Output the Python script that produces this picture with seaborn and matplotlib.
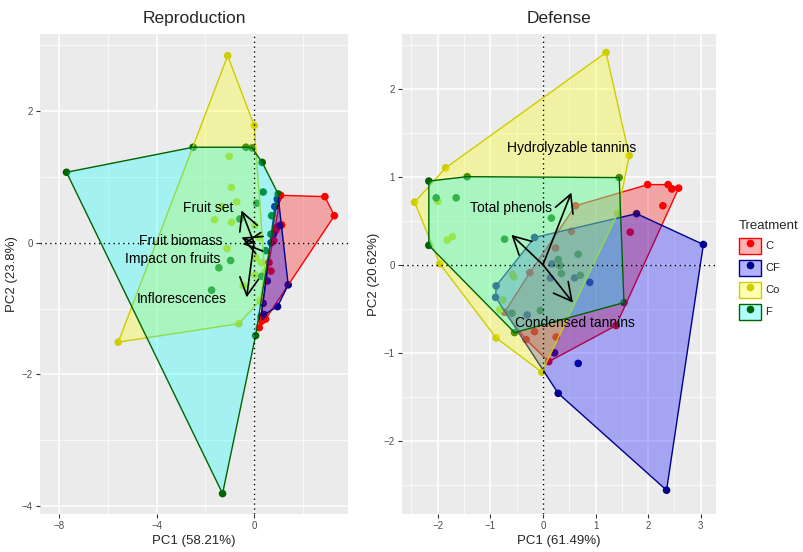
import numpy as np
import pandas as pd
import matplotlib
matplotlib.use('Agg')
import matplotlib.pyplot as plt
from matplotlib.patches import Polygon, Patch
from matplotlib.lines import Line2D
import seaborn as sns

# PCA scores (PC1, PC2) per treatment
groups = ['C', 'CF', 'Co', 'F']

rep_C = [(1.10, 0.72), (2.92, 0.70), (3.31, 0.41), (0.22, -1.29), (0.90, 0.19), (0.82, 0.03),
         (0.70, -0.43), (1.14, 0.27), (0.92, 0.23), (0.48, -1.16), (0.32, -1.19), (0.62, -0.30)]
rep_CF = [(1.00, 0.69), (1.41, -0.64), (0.97, -0.97), (0.41, -1.09), (0.30, -1.12), (0.96, 0.66),
          (0.86, 0.55), (0.80, 0.13), (1.07, 0.26), (0.55, -0.58), (0.38, -0.92), (0.70, 0.00)]
rep_Co = [(-1.08, 2.84), (0.01, 1.78), (0.45, -0.45), (0.25, -0.88), (-0.62, -1.23), (-5.58, -1.51),
          (-1.02, 1.31), (-0.93, 0.84), (-0.71, 0.62), (-1.32, 0.55), (-1.62, 0.35), (-0.92, 0.31),
          (-1.10, -0.09), (0.04, 0.26), (0.20, 0.08), (0.08, -0.23), (0.30, -0.30), (0.04, -0.49),
          (-0.44, -0.65)]
rep_F = [(-7.71, 1.07), (-2.50, 1.45), (-0.33, 1.45), (-0.08, 1.44), (0.34, 1.22), (1.00, 0.74),
         (0.07, -1.41), (-1.29, -3.81), (0.38, 0.77), (0.11, 0.60), (0.73, 0.41), (-0.58, 0.36),
         (0.70, 0.13), (0.48, -0.12), (-0.96, -0.27), (-1.44, -0.38), (-1.74, -0.72), (0.32, -0.51)]

def_C = [(1.99, 0.91), (2.38, 0.91), (2.45, 0.86), (2.58, 0.87), (1.39, -0.69), (0.11, -1.10),
         (-0.73, -0.54), (0.62, 0.67), (2.28, 0.67), (1.66, 0.37), (0.54, 0.38), (0.24, 0.19),
         (-0.25, -0.09), (-0.16, -0.76), (-0.32, -0.85), (0.25, -0.82)]
def_CF = [(1.78, 0.58), (3.05, 0.23), (2.35, -2.56), (0.29, -1.46), (-0.90, -0.37), (-0.89, -0.24),
          (-0.16, 0.31), (0.67, -1.12), (0.22, -1.00), (0.89, -0.20), (0.60, -0.15), (0.14, -0.15),
          (0.17, 0.01), (-0.30, -0.57)]
def_Co = [(1.20, 2.41), (1.64, 1.24), (1.42, 0.58), (-0.02, -1.22), (-0.89, -0.83), (-1.96, 0.01),
          (-2.44, 0.71), (-1.85, 1.10), (-2.00, 0.72), (-1.82, 0.28), (-1.72, 0.32), (-0.76, -0.40),
          (-0.82, -0.51), (-0.58, -0.11), (-0.55, -0.14)]
def_F = [(-2.17, 0.95), (-1.44, 1.00), (1.45, 0.99), (1.54, -0.43), (-0.54, -0.77), (-2.17, 0.22),
         (-2.03, 0.76), (-1.65, 0.76), (0.16, 0.53), (-0.73, 0.29), (0.29, 0.06), (0.32, -0.01),
         (0.35, -0.10), (0.67, 0.12), (0.71, -0.12), (-0.05, -0.52), (-0.59, -0.55)]

# variable loadings (arrow tips) and label positions
rep_vars = ['Fruit set', 'Fruit biomass', 'Impact on fruits', 'Inflorescences']
rep_tips = [(-0.51, 0.49), (-0.51, 0.08), (-0.47, -0.02), (-0.30, -0.83)]
rep_lab = [(-1.90, 0.52), (-3.00, 0.02), (-3.33, -0.24), (-2.96, -0.85)]

def_vars = ['Hydrolyzable tannins', 'Total phenols', 'Condensed tannins']
def_tips = [(0.54, 0.82), (-0.60, 0.34), (0.57, -0.43)]
def_lab = [(0.55, 1.32), (-0.60, 0.64), (0.60, -0.66)]

line_cols = {'C': '#FF0000', 'CF': '#00008B', 'Co': '#CDCD00', 'F': '#006400'}
fill_cols = {'C': '#FF0000', 'CF': '#0000FF', 'Co': '#FFFF00', 'F': '#00FFFF'}

sns.set_theme(style='darkgrid', rc={'axes.facecolor': '#EBEBEB', 'grid.color': 'white'})
plt.rcParams['font.family'] = ['Liberation Sans', 'DejaVu Sans']


def hull(pts):
    pts = sorted(set(pts))
    def cross(o, a, b):
        return (a[0] - o[0]) * (b[1] - o[1]) - (a[1] - o[1]) * (b[0] - o[0])
    lower, upper = [], []
    for p in pts:
        while len(lower) >= 2 and cross(lower[-2], lower[-1], p) <= 0:
            lower.pop()
        lower.append(p)
    for p in reversed(pts):
        while len(upper) >= 2 and cross(upper[-2], upper[-1], p) <= 0:
            upper.pop()
        upper.append(p)
    return lower[:-1] + upper[:-1]


def panel(ax, data, tips, labels, names, title, xlab, ylab, xlim, ylim, xt, yt, xm, ym):
    rows = []
    for g, pts in zip(groups, data):
        for x, y in pts:
            rows.append({'PC1': x, 'PC2': y, 'Treatment': g})
    df = pd.DataFrame(rows)
    # points first, hull fills go over them like in the original
    sns.scatterplot(data=df, x='PC1', y='PC2', hue='Treatment', hue_order=groups,
                    palette=line_cols, s=30, linewidth=0, legend=False, ax=ax, zorder=2)
    for g, pts in zip(groups, data):
        h = hull(pts)
        ax.add_patch(Polygon(h, closed=True, facecolor=fill_cols[g], alpha=0.3,
                             edgecolor='none', zorder=3))
        ax.add_patch(Polygon(h, closed=True, facecolor='none', edgecolor=line_cols[g],
                             lw=1.0, zorder=3))
    ax.axhline(0, color='black', ls=(0, (1, 2.5)), lw=1.0, zorder=4)
    ax.axvline(0, color='black', ls=(0, (1, 2.5)), lw=1.0, zorder=4)
    for (tx, ty), (lx, ly), nm in zip(tips, labels, names):
        ax.annotate('', xy=(tx, ty), xytext=(0, 0),
                    arrowprops=dict(arrowstyle='->,head_length=0.85,head_width=0.45',
                                    color='black', lw=1.2, shrinkA=0, shrinkB=0,
                                    mutation_scale=15), zorder=5)
        ax.text(lx, ly, nm, ha='center', va='center', fontsize=10, color='black', zorder=6)
    ax.set_xlim(xlim)
    ax.set_ylim(ylim)
    ax.set_xticks(xt)
    ax.set_yticks(yt)
    ax.set_xticks(xm, minor=True)
    ax.set_yticks(ym, minor=True)
    ax.grid(which='major', color='white', lw=1.1)
    ax.grid(which='minor', color='white', lw=0.5)
    ax.tick_params(which='major', length=3, width=0.8, color='#333333', labelsize=7,
                   labelcolor='#4D4D4D', pad=2, bottom=True, left=True)
    ax.tick_params(which='minor', length=0)
    for s in ax.spines.values():
        s.set_visible(False)
    ax.set_title(title, fontsize=12.5, pad=8)
    ax.set_xlabel(xlab, fontsize=9.5, labelpad=3)
    ax.set_ylabel(ylab, fontsize=9.5, labelpad=3)


fig = plt.figure(figsize=(8.04, 5.52), dpi=100)
ax1 = fig.add_axes([40 / 804, 1 - 514 / 552, 308 / 804, 480 / 552])
ax2 = fig.add_axes([402 / 804, 1 - 514 / 552, 314 / 804, 480 / 552])

panel(ax1, [rep_C, rep_CF, rep_Co, rep_F], rep_tips, rep_lab, rep_vars, 'Reproduction',
      'PC1 (58.21%)', 'PC2 (23.8%)', (-8.8, 3.87), (-4.12, 3.17),
      [-8, -4, 0], [-4, -2, 0, 2], [-6, -2, 2], [-3, -1, 1, 3])
panel(ax2, [def_C, def_CF, def_Co, def_F], def_tips, def_lab, def_vars, 'Defense',
      'PC1 (61.49%)', 'PC2 (20.62%)', (-2.68, 3.29), (-2.83, 2.62),
      [-2, -1, 0, 1, 2, 3], [-2, -1, 0, 1, 2], [-2.5, -1.5, -0.5, 0.5, 1.5, 2.5],
      [-2.5, -1.5, -0.5, 0.5, 1.5, 2.5])

handles = []
for g in groups:
    handles.append((Patch(facecolor=fill_cols[g], alpha=0.3, edgecolor='none'),
                    Patch(facecolor='none', edgecolor=line_cols[g], lw=1.0),
                    Line2D([], [], marker='o', ls='none', color=line_cols[g], markersize=4.5)))
fig.legend(handles, groups, title='Treatment', loc='center left',
           bbox_to_anchor=(732 / 804, 1 - 270 / 552), frameon=False, handlelength=2.0,
           handleheight=1.9, labelspacing=0.5, fontsize=8, title_fontsize=9.5,
           handletextpad=0.4, alignment='left', borderaxespad=0.2)

fig.savefig('out.png', dpi=100)
